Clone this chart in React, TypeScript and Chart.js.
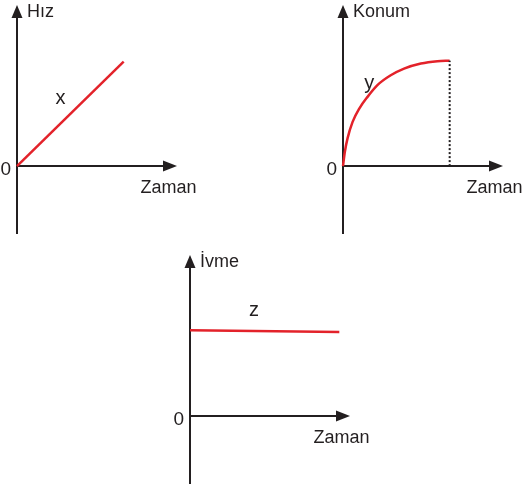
import React, { useEffect, useRef } from "react";
import { Chart, registerables } from "chart.js";

Chart.register(...registerables);

// ---- data ----
const hizTime = [0, 4];
const hizValues = [0, 3.92];

const konumTime = [0, 0.07, 0.17, 0.36, 0.61, 0.92, 1.29, 1.79, 2.29, 2.92, 3.54, 4.0];
const konumValues = [0, 0.54, 1.04, 1.66, 2.16, 2.6, 3.04, 3.41, 3.66, 3.85, 3.94, 3.96];

const ivmeTime = [0, 5.6];
const ivmeValues = [3.22, 3.16];

const axisNames = ["Hız", "Konum", "İvme"];
const seriesNames = ["x", "y", "z"];
const timeLabel = "Zaman";
const zeroLabel = "0";

// ---- style ----
const RED = "#e3222a";
const INK = "#231f20";
const FONT = '"Liberation Sans", Arial, sans-serif';
const W = 527;
const H = 489;
const X_MAX = 6;
const Y_MIN = -2.55;
const Y_MAX = 6.05;
const AREA_W = 160;
const AREA_H = 229;

type PanelDef = {
  left: number;
  top: number;
  title: string;
  series: string;
  seriesAt: [number, number];
  time: number[];
  values: number[];
  smooth: boolean;
  dropLine: boolean;
};

const panels: PanelDef[] = [
  { left: 17, top: 5, title: axisNames[0], series: seriesNames[0], seriesAt: [1.63, 2.32], time: hizTime, values: hizValues, smooth: false, dropLine: false },
  { left: 343, top: 5, title: axisNames[1], series: seriesNames[1], seriesAt: [0.98, 2.91], time: konumTime, values: konumValues, smooth: true, dropLine: true },
  { left: 190, top: 255, title: axisNames[2], series: seriesNames[2], seriesAt: [2.4, 3.75], time: ivmeTime, values: ivmeValues, smooth: false, dropLine: false },
];

function makePlugin(p: PanelDef) {
  return {
    id: "physAxes",
    beforeDatasetsDraw(chart: any) {
      const { ctx, chartArea, scales } = chart;
      const ox = scales.x.getPixelForValue(0);
      const oy = scales.y.getPixelForValue(0);
      const top = chartArea.top;
      const bottom = chartArea.bottom;
      const right = chartArea.right;
      ctx.save();
      ctx.strokeStyle = INK;
      ctx.fillStyle = INK;
      ctx.lineWidth = 2;
      ctx.beginPath();
      ctx.moveTo(ox, bottom);
      ctx.lineTo(ox, top + 10);
      ctx.moveTo(ox, oy);
      ctx.lineTo(right - 10, oy);
      ctx.stroke();
      // arrow heads
      ctx.beginPath();
      ctx.moveTo(ox, top);
      ctx.lineTo(ox - 5.5, top + 13);
      ctx.lineTo(ox + 5.5, top + 13);
      ctx.closePath();
      ctx.fill();
      ctx.beginPath();
      ctx.moveTo(right, oy);
      ctx.lineTo(right - 14, oy - 5.5);
      ctx.lineTo(right - 14, oy + 5.5);
      ctx.closePath();
      ctx.fill();
      ctx.restore();
    },
    afterDraw(chart: any) {
      const { ctx, chartArea, scales } = chart;
      const ox = scales.x.getPixelForValue(0);
      const oy = scales.y.getPixelForValue(0);
      ctx.save();
      ctx.fillStyle = INK;
      ctx.textBaseline = "alphabetic";
      ctx.font = `18px ${FONT}`;
      ctx.textAlign = "left";
      ctx.fillText(p.title, ox + 10, chartArea.top + 12);
      ctx.font = `18px ${FONT}`;
      ctx.textAlign = "center";
      ctx.fillText(timeLabel, chartArea.right - 8.5, oy + 27);
      ctx.font = `19px ${FONT}`;
      ctx.textAlign = "right";
      ctx.fillText(zeroLabel, ox - 6, oy + 9);
      ctx.font = `20px ${FONT}`;
      ctx.textAlign = "center";
      ctx.fillText(
        p.series,
        scales.x.getPixelForValue(p.seriesAt[0]),
        scales.y.getPixelForValue(p.seriesAt[1])
      );
      ctx.restore();
    },
  };
}

function PanelChart({ p }: { p: PanelDef }) {
  const ref = useRef<HTMLCanvasElement | null>(null);
  useEffect(() => {
    if (!ref.current) return;
    const points = p.time.map((t, i) => ({ x: t, y: p.values[i] }));
    const datasets: any[] = [];
    if (p.dropLine) {
      const last = points[points.length - 1];
      datasets.push({
        data: [
          { x: last.x, y: 0 },
          { x: last.x, y: last.y },
        ],
        borderColor: INK,
        borderWidth: 2,
        borderDash: [2, 2],
        pointRadius: 0,
        clip: 10,
      });
    }
    datasets.push({
      data: points,
      borderColor: RED,
      borderWidth: 2.5,
      pointRadius: 0,
      cubicInterpolationMode: p.smooth ? "monotone" : "default",
      tension: 0,
      clip: 10,
    });
    const chart = new Chart(ref.current, {
      type: "line",
      data: { datasets },
      options: {
        responsive: false,
        animation: false,
        devicePixelRatio: 1,
        layout: {
          padding: {
            left: p.left,
            right: W - p.left - AREA_W,
            top: p.top,
            bottom: H - p.top - AREA_H,
          },
        },
        scales: {
          x: { type: "linear", min: 0, max: X_MAX, display: false },
          y: { type: "linear", min: Y_MIN, max: Y_MAX, display: false },
        },
        plugins: { legend: { display: false }, tooltip: { enabled: false } },
      },
      plugins: [makePlugin(p)],
    } as any);
    return () => chart.destroy();
  }, [p]);
  return (
    <canvas
      ref={ref}
      width={W}
      height={H}
      style={{ position: "absolute", left: 0, top: 0, width: W, height: H }}
    />
  );
}

export default function App() {
  return (
    <div
      style={{
        position: "absolute",
        left: 0,
        top: 0,
        width: W,
        height: H,
        background: "#ffffff",
      }}
    >
      {panels.map((p, i) => (
        <PanelChart key={i} p={p} />
      ))}
    </div>
  );
}
